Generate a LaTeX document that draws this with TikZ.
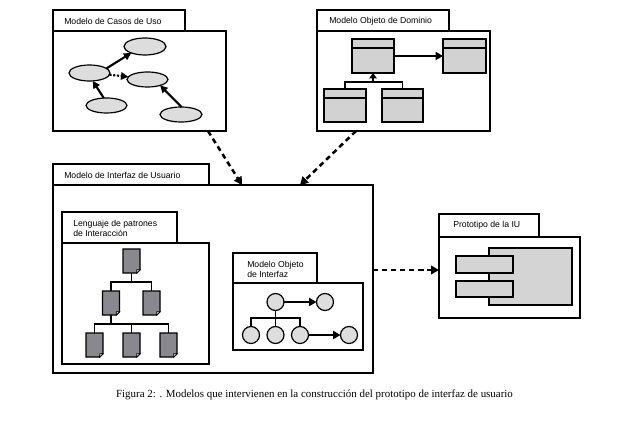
\documentclass[tikz,border=0pt]{standalone}
\usepackage{fontspec}
\setmainfont{Liberation Serif}
\newfontfamily\labfont{Liberation Sans}
\usetikzlibrary{shapes.geometric,arrows.meta}
\definecolor{ellfill}{RGB}{221,221,221}
\definecolor{clsfill}{RGB}{210,210,210}
\definecolor{docfill}{RGB}{136,136,142}
\definecolor{protofill}{RGB}{212,212,212}
\tikzset{
  sz/.style 2 args={minimum width=#1*0.75pt, minimum height=#2*0.75pt},
  frame/.style={draw, line width=1.2pt, inner sep=0pt, outer sep=0pt, anchor=north west, fill=white},
  lab/.style={font=\labfont\fontsize{6.5}{7.6}\selectfont, anchor=west, align=left, inner sep=0pt},
  ell/.style={ellipse, draw, line width=0.9pt, fill=ellfill, inner sep=0pt, outer sep=0pt},
  cls/.style={rectangle, draw, line width=1pt, fill=clsfill, inner sep=0pt, outer sep=0pt, anchor=north west},
  docnode/.style={rectangle, inner sep=0pt, outer sep=0pt, sz={17}{24}},
  docshape/.style={draw, line width=0.9pt, fill=docfill},
  circ/.style={circle, draw, line width=0.9pt, fill=ellfill, inner sep=0pt, outer sep=0pt, minimum size=12.75pt},
  prect/.style={rectangle, draw, line width=1pt, fill=protofill, inner sep=0pt, outer sep=0pt, anchor=north west},
  tree/.style={line width=1.1pt},
  arr/.style={line width=2pt, -{Triangle[length=5.5pt,width=6pt]}},
  earr/.style={line width=1.6pt, -{Triangle[length=5.5pt,width=5.5pt]}},
  dasharr/.style={line width=1.9pt, dash pattern=on 3.9pt off 2.9pt, -{Triangle[length=6pt,width=6.5pt]}},
}
\begin{document}
\begin{tikzpicture}[x=0.75pt, y=-0.75pt]
\useasboundingbox (0,0) rectangle (625,424);

% ---------- Modelo de Casos de Uso ----------
\node[frame, sz={132}{21}] (casosTab) at (53,10) {};
\node[frame, sz={173}{100}] (casos) at (53,31) {};
\node[lab] (casosLab) at (64,21) {Modelo de Casos de Uso};
\node[ell, sz={42}{17}] (e1) at (145,46.5) {};
\node[ell, sz={41}{16}] (e2) at (89.5,73) {};
\node[ell, sz={41}{15}] (e3) at (147.5,79.5) {};
\node[ell, sz={41}{15}] (e4) at (106.5,105.5) {};
\node[ell, sz={42}{15}] (e5) at (181,114.5) {};
\draw[earr] (e2.15) -- (e1.205);
\draw[earr, dash pattern=on 1.6pt off 1.2pt] (e2.-5) -- (e3.172);
\draw[earr] (e4.110) -- (e2.292);
\draw[earr] (e5.85) -- (e3.335);

% ---------- Modelo Objeto de Dominio ----------
\node[frame, sz={132}{21}] (domTab) at (317,10) {};
\node[frame, sz={173}{100}] (dom) at (317,31) {};
\node[lab] (domLab) at (329,21) {Modelo Objeto de Dominio};
\node[cls, sz={42}{34}] (c1) at (352,39) {};
\node[cls, sz={43}{34}] (c2) at (443,39) {};
\node[cls, sz={42}{33}] (c3) at (324,89) {};
\node[cls, sz={41}{33}] (c4) at (382,89) {};
\foreach \c in {c1,c2,c3,c4}
  \draw[line width=1pt] ([yshift=-6.75pt]\c.north west) -- ([yshift=-6.75pt]\c.north east);
\draw[arr] (c1.east) -- (c2.west);
\draw[tree] (c3.north) -- ++(0,-7) coordinate (ib) -| (c4.north);
\draw[arr, -{Triangle[length=4pt,width=5.5pt]}] (ib -| c1.south) -- (c1.south);

% ---------- Modelo de Interfaz de Usuario ----------
\node[frame, sz={156}{21}] (iuTab) at (53,164) {};
\node[frame, sz={320}{188}] (iu) at (53,185) {};
\node[lab] (iuLab) at (64,175) {Modelo de Interfaz de Usuario};

% Lenguaje de patrones
\node[frame, sz={115}{31}] (lenTab) at (62,212) {};
\node[frame, sz={147}{121}] (len) at (62,243) {};
\node[lab] (lenLab) at (73,228) {Lenguaje de patrones\\de Interacción};
\node[docnode] (d1) at (131.5,261) {};
\node[docnode] (d2) at (111,303) {};
\node[docnode] (d3) at (151.5,303) {};
\node[docnode] (d4) at (94.5,345) {};
\node[docnode] (d5) at (131.5,345) {};
\node[docnode] (d6) at (168.5,345) {};
\foreach \d in {d1,d2,d3,d4,d5,d6}{
  \draw[docshape] (\d.north west) -- (\d.north east) -- ([yshift=2.4pt]\d.south east)
     -- ([xshift=-2.4pt]\d.south east) -- (\d.south west) -- cycle;
  \draw[line width=0.5pt, fill=white] ([yshift=2.4pt]\d.south east) -- ([xshift=-2.4pt,yshift=2.4pt]\d.south east)
     -- ([xshift=-2.4pt]\d.south east) -- cycle;
}
\draw[tree] (d1.south) -- ++(0,9) coordinate (t1);
\draw[tree] (d2.north) |- (t1) -| (d3.north);
\draw[tree] (d2.south) -- ++(0,9) coordinate (t2);
\draw[tree] (d4.north) |- (t2) -| (d6.north);
\draw[tree] (d5.north) -- (d5.north |- t2);

% Modelo Objeto de Interfaz
\node[frame, sz={84}{30}] (moiTab) at (233,253) {};
\node[frame, sz={130}{67}] (moi) at (233,283) {};
\node[lab] (moiLab) at (247,269.5) {Modelo Objeto\\de Interfaz};
\node[circ] (k1) at (275.5,302) {};
\node[circ] (k2) at (325,302) {};
\node[circ] (k3) at (251,335) {};
\node[circ] (k4) at (275.5,335) {};
\node[circ] (k5) at (300,335) {};
\node[circ] (k6) at (349,335) {};
\draw[arr] (k1) -- (k2);
\draw[tree] (k1.south) -- ++(0,7.5) coordinate (kb);
\draw[tree] (k3.north) |- (kb) -| (k5.north);
\draw[tree] (k4.north) -- (k4.north |- kb);
\draw[arr] (k5) -- (k6);

% ---------- Prototipo de la IU ----------
\node[frame, sz={100}{23}] (prTab) at (439,214) {};
\node[frame, sz={141}{81}] (pr) at (439,237) {};
\node[lab] (prLab) at (453,225) {Prototipo de la IU};
\node[prect, sz={83}{57}] (pbig) at (489,248) {};
\node[prect, sz={57}{17}] (ps1) at (456,256) {};
\node[prect, sz={57}{16}] (ps2) at (456,281) {};

% ---------- dashed connectors ----------
\draw[dasharr] ([xshift=-13.5pt]casos.south east) -- ([xshift=141.75pt]iu.north west);
\draw[dasharr] ([xshift=29.25pt]dom.south west) -- ([xshift=185.25pt]iu.north west);
\draw[dasharr] ([yshift=6.75pt]iu.east) -- ([yshift=6.75pt]iu.east -| pr.west);

% ---------- caption ----------
\node[font=\fontsize{8.2}{10}\selectfont, inner sep=0pt] (cap) at (314.5,395)
  {Figura 2: . Modelos que intervienen en la construcción del prototipo de interfaz de usuario};
\end{tikzpicture}
\end{document}
